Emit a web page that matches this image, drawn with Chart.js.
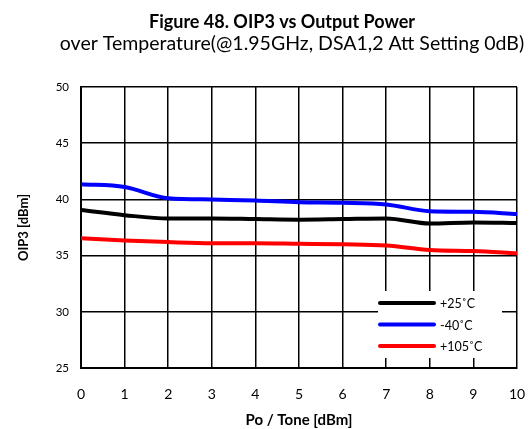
<!DOCTYPE html>
<html>
<head>
<meta charset="utf-8">
<script src="https://cdn.jsdelivr.net/npm/chart.js@4"></script>
<style>
  html, body { margin: 0; padding: 0; background: #fff; }
  #wrap { width: 531px; height: 429px; }
</style>
</head>
<body>
<div id="wrap"><canvas id="oip3Chart" width="531" height="429"></canvas></div>
<script>
const FONT = 'Lato, "Open Sans", sans-serif';

const chartTitle = 'Figure 48. OIP3 vs Output Power';
const chartSubtitle = 'over Temperature(@1.95GHz, DSA1,2 Att Setting 0dB)';

// Po / Tone [dBm]
const powerLevels = [0, 1, 2, 3, 4, 5, 6, 7, 8, 9, 10];

// OIP3 [dBm] per temperature
const oip3At25 = [39.05, 38.6, 38.3, 38.3, 38.25, 38.2, 38.25, 38.3, 37.85, 37.95, 37.9];
const oip3AtMinus40 = [41.35, 41.1, 40.1, 40.0, 39.9, 39.75, 39.7, 39.55, 38.95, 38.9, 38.7];
const oip3At105 = [36.55, 36.35, 36.2, 36.1, 36.1, 36.05, 36.0, 35.9, 35.5, 35.4, 35.2];

const seriesLabels = ['+25\u02daC', '-40\u02daC', '+105\u02daC'];
const seriesColors = ['#000000', '#0000ff', '#ff0000'];

const yTicks = [25, 30, 35, 40, 45, 50];

function toPoints(values) {
    return values.map((v, i) => ({ x: powerLevels[i], y: v }));
}

// two-line heading, title is a bit left of the subtitle
const heading = {
    id: 'heading',
    afterDraw(chart) {
        const ctx = chart.ctx;
        ctx.save();
        ctx.fillStyle = '#000';
        ctx.textAlign = 'center';
        ctx.textBaseline = 'alphabetic';
        ctx.font = 'bold 18px ' + FONT;
        ctx.fillText(chartTitle, 282, 27.5);
        ctx.font = '19.5px ' + FONT;
        ctx.fillText(chartSubtitle, 292, 50);
        ctx.restore();
    }
};

// legend box sitting inside the plot, bottom right
const insideLegend = {
    id: 'insideLegend',
    afterDraw(chart) {
        const { ctx, chartArea } = chart;
        const boxLeft = chartArea.right - 139;
        const boxTop = chartArea.bottom - 77;
        ctx.save();
        ctx.fillStyle = '#fff';
        ctx.fillRect(boxLeft, boxTop, 124, 67);
        ctx.font = '12.5px ' + FONT;
        ctx.textBaseline = 'middle';
        chart.data.datasets.forEach((ds, i) => {
            const y = boxTop + 12 + i * 21.5;
            ctx.strokeStyle = ds.borderColor;
            ctx.lineWidth = 4;
            ctx.lineCap = 'round';
            ctx.beginPath();
            ctx.moveTo(boxLeft + 2, y);
            ctx.lineTo(boxLeft + 56, y);
            ctx.stroke();
            ctx.fillStyle = '#000';
            ctx.fillText(ds.label, boxLeft + 62, y + 1);
        });
        ctx.restore();
    }
};

new Chart(document.getElementById('oip3Chart'), {
    type: 'line',
    data: {
        datasets: [
            { label: seriesLabels[0], data: toPoints(oip3At25), borderColor: seriesColors[0] },
            { label: seriesLabels[1], data: toPoints(oip3AtMinus40), borderColor: seriesColors[1] },
            { label: seriesLabels[2], data: toPoints(oip3At105), borderColor: seriesColors[2] }
        ]
    },
    options: {
        responsive: false,
        animation: false,
        layout: { padding: { left: 0, right: 14, top: 87, bottom: 0 } },
        elements: {
            line: { borderWidth: 4, cubicInterpolationMode: 'monotone', fill: false },
            point: { radius: 0 }
        },
        plugins: {
            legend: { display: false },
            tooltip: { enabled: false }
        },
        scales: {
            x: {
                type: 'linear',
                min: 0,
                max: 10,
                afterFit: s => { s.height = 61; },
                ticks: {
                    stepSize: 1,
                    color: '#000',
                    padding: 4,
                    font: { family: FONT, size: 14 }
                },
                // invisible tick marks just push the labels down
                grid: { color: '#000', lineWidth: 1.5, drawTicks: true, tickLength: 14, tickColor: 'rgba(0,0,0,0)' },
                border: { color: '#000', width: 2 },
                title: {
                    display: true,
                    text: 'Po / Tone [dBm]',
                    color: '#000',
                    font: { family: FONT, size: 15, weight: 'bold' },
                    padding: { top: 0, bottom: 0 }
                }
            },
            y: {
                min: 25,
                max: 50,
                afterFit: s => { s.width = 81; },
                afterBuildTicks: s => { s.ticks = yTicks.map(v => ({ value: v })); },
                ticks: {
                    color: '#000',
                    padding: 12,
                    font: { family: FONT, size: 11.5 }
                },
                grid: { color: '#000', lineWidth: 1.5, drawTicks: false },
                border: { color: '#000', width: 2 },
                title: {
                    display: true,
                    text: 'OIP3 [dBm]',
                    color: '#000',
                    font: { family: FONT, size: 13, weight: 'bold' },
                    padding: { top: 16, bottom: 0 }
                }
            }
        }
    },
    plugins: [heading, insideLegend]
});
</script>
</body>
</html>
